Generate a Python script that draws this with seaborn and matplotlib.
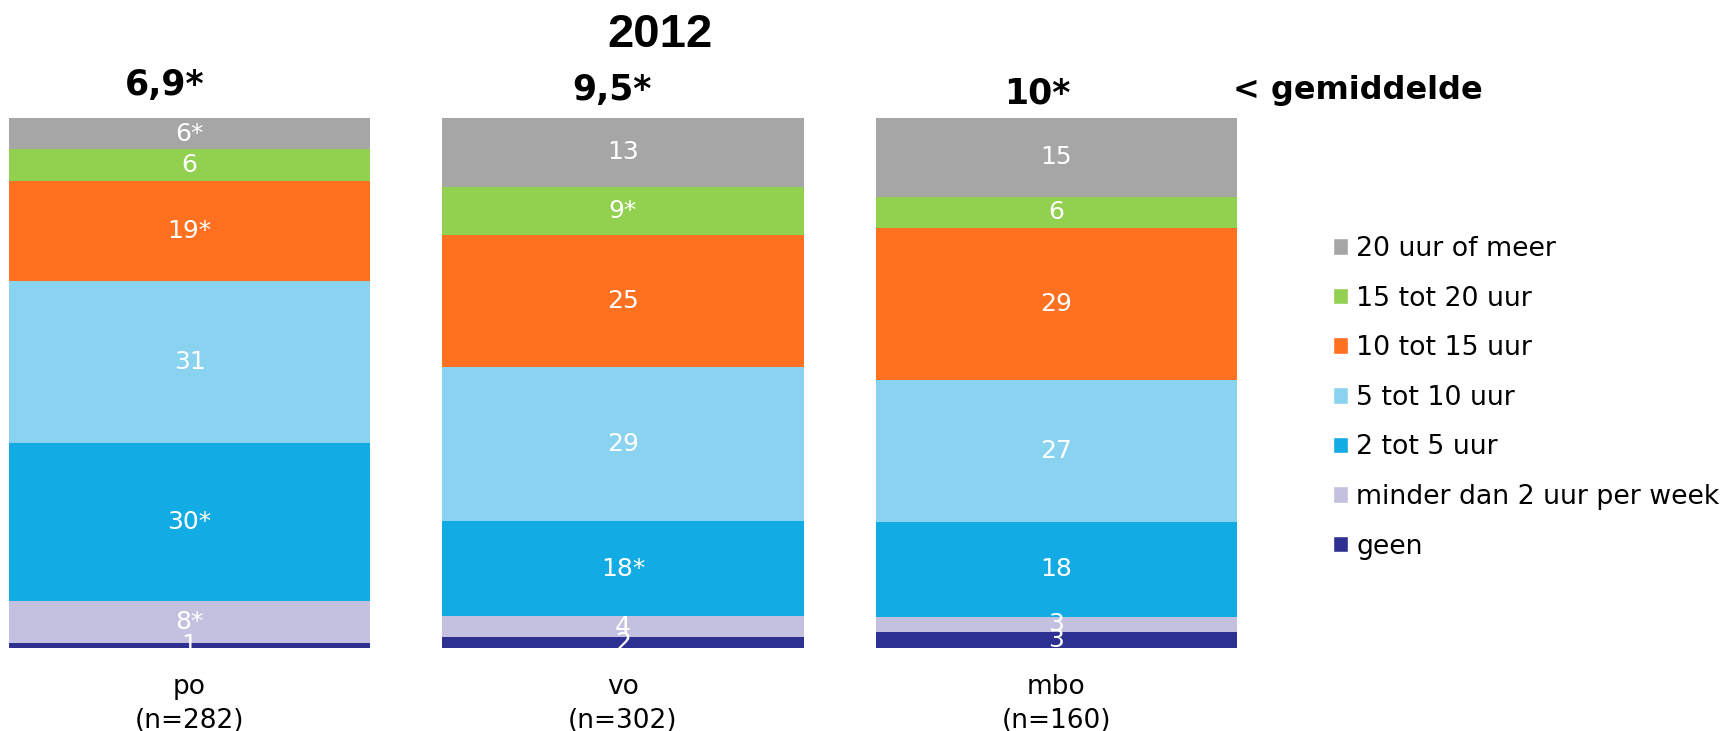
import numpy as np
import seaborn as sns
import matplotlib.pyplot as plt
from matplotlib.patches import Patch

# data (percentages)
categories = ['po', 'vo', 'mbo']
n_sizes = [282, 302, 160]
means = ['6,9*', '9,5*', '10*']

series_names = ['geen', 'minder dan 2 uur per week', '2 tot 5 uur', '5 tot 10 uur',
                '10 tot 15 uur', '15 tot 20 uur', '20 uur of meer']
geen = [1, 2, 3]
minder_2 = [8, 4, 3]
uur_2_5 = [30, 18, 18]
uur_5_10 = [31, 29, 27]
uur_10_15 = [19, 25, 29]
uur_15_20 = [6, 9, 6]
uur_20_plus = [6, 13, 15]

# segment labels (asterisk = significant difference)
lbl_geen = ['1', '2', '3']
lbl_minder_2 = ['8*', '4', '3']
lbl_2_5 = ['30*', '18*', '18']
lbl_5_10 = ['31', '29', '27']
lbl_10_15 = ['19*', '25', '29']
lbl_15_20 = ['6', '9*', '6']
lbl_20_plus = ['6*', '13', '15']

colors = ['#2E3192', '#C3C1DF', '#12ABE3', '#89D3F0', '#FF7121', '#92D050', '#A6A6A6']

values = [geen, minder_2, uur_2_5, uur_5_10, uur_10_15, uur_15_20, uur_20_plus]
labels = [lbl_geen, lbl_minder_2, lbl_2_5, lbl_5_10, lbl_10_15, lbl_15_20, lbl_20_plus]

sns.set_style('white')
plt.rcParams['font.family'] = ['DejaVu Sans']
plt.rcParams['text.color'] = 'black'
plt.rcParams['xtick.color'] = 'black'

fig = plt.figure(figsize=(17.26, 7.31), dpi=100)
ax = fig.add_axes([9 / 1726, 1 - 648 / 731, 1228 / 1726, 530 / 731])

# stack scaled to 100% per bar
totals = np.sum(np.array(values, dtype=float), axis=0)
bottom = np.zeros(len(categories))
for vals, lbls, col in zip(values, labels, colors):
    pct = np.array(vals, dtype=float) / totals * 100
    sns.barplot(x=categories, y=pct, bottom=bottom, color=col, saturation=1,
                width=0.833, ax=ax, linewidth=0)
    ax.bar_label(ax.containers[-1], labels=lbls, label_type='center',
                 color='white', fontsize=18)
    bottom += pct

ax.set_xlim(-0.4167, 2.4167)
ax.set_ylim(0, 100)
sns.despine(ax=ax, left=True, bottom=True)
ax.set_yticks([])
ax.set_xticks(range(len(categories)))
ax.set_xticklabels([f'{c}\n(n={n})' for c, n in zip(categories, n_sizes)], fontsize=19,
                   linespacing=1.4)
ax.tick_params(axis='x', length=0, pad=19)

# means above the bars
offsets = [(-25, 33), (-11, 28), (-19, 25)]
for i, (m, off) in enumerate(zip(means, offsets)):
    ax.annotate(m, xy=(i, 100), xytext=off, textcoords='offset pixels',
                ha='center', va='center', fontsize=25, fontweight='bold')
fig.text(1233 / 1726, 1 - 90 / 731, '< gemiddelde', ha='left', va='center',
         fontsize=23, fontweight='bold')
fig.text(660 / 1726, 1 - 35 / 731, '2012', ha='center', va='center',
         fontsize=34, fontweight='bold', family='Liberation Sans')

handles = [Patch(facecolor=c, label=s) for c, s in zip(colors, series_names)][::-1]
fig.legend(handles=handles, loc='upper left', bbox_to_anchor=(1333 / 1726, 1 - 236 / 731),
           frameon=False, fontsize=19.3, handlelength=0.57, handleheight=0.57,
           handletextpad=0.3, labelspacing=0.88, borderpad=0, borderaxespad=0)

fig.savefig('out.png', dpi=100)
